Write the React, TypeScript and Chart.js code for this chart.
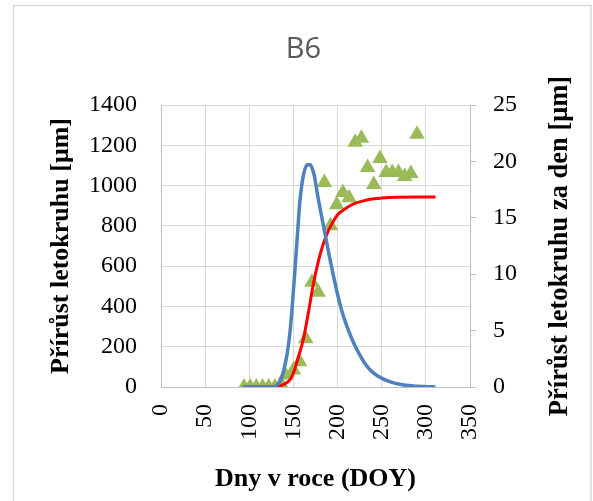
import React, { useEffect, useRef } from "react";
import { Chart, registerables } from "chart.js";

Chart.register(...registerables);

// Measured ring-width increments (green triangles), left axis
const obsDoy = [94, 101, 108, 115, 122, 129, 136, 141, 150, 157, 164, 171, 178, 185, 192, 199, 206, 213, 220, 227, 234, 241, 248, 255, 262, 269, 276, 283, 290];
const obsVal = [0, 0, 0, 0, 0, 0, 15, 60, 85, 125, 240, 520, 470, 1015, 800, 905, 965, 940, 1215, 1235, 1090, 1005, 1135, 1065, 1065, 1065, 1045, 1060, 1255];

// Fitted cumulative growth curve (red), left axis
const fitDoy = [93, 120, 130, 140, 146, 150, 155, 161, 167, 172, 178, 184, 190, 195, 200, 207, 214, 222, 230, 237, 250, 267, 290, 311];
const fitVal = [0, 0, 2, 15, 35, 70, 140, 233, 370, 498, 620, 713, 780, 821, 855, 880, 900, 915, 925, 932, 938, 942, 943, 943];

// Daily growth rate (blue), right axis
const rateDoy = [93, 127, 133, 137, 140, 143, 146, 149, 152, 155, 157, 160, 163, 166, 169, 172, 174, 177, 180, 184, 188, 192, 196, 200, 205, 210, 216, 222, 230, 237, 245, 259, 272, 285, 298, 311];
const rateVal = [0, 0, 0.3, 0.9, 1.8, 3, 4.8, 7.5, 10.7, 14, 16.2, 18.2, 19.3, 19.7, 19.7, 19.2, 18.6, 17.2, 15.9, 14.3, 12.7, 11.1, 9.6, 8.2, 6.7, 5.5, 4.3, 3.3, 2.2, 1.5, 1.0, 0.47, 0.22, 0.1, 0.04, 0];

const leftTicks = [0, 200, 400, 600, 800, 1000, 1200, 1400];
const rightTicks = [0, 5, 10, 15, 20, 25];
const xTicks = [0, 50, 100, 150, 200, 250, 300, 350];

const chartTitle = "B6";
const xTitle = "Dny v roce (DOY)";
const yTitle = "Přírůst letokruhu [μm]";
const y2Title = "Přírůst letokruhu za den [μm]";

const W = 593;
const H = 501;
const PLOT_LEFT = 161;
const PLOT_RIGHT = 470;
const PLOT_BOTTOM = 387;
const FRAME_LEFT = 14;

const serif = "'Liberation Serif', 'Times New Roman', serif";

const toPts = (xs: number[], ys: number[]) => xs.map((x, i) => ({ x, y: ys[i] }));
const fixedTicks = (vals: number[]) => (axis: any) => {
  axis.ticks = vals.map((v) => ({ value: v }));
};
const plain = (v: any) => String(v);

const framePlugin = {
  id: "frame",
  beforeDraw(chart: any) {
    const ctx = chart.ctx;
    ctx.save();
    ctx.fillStyle = "#ffffff";
    ctx.fillRect(0, 0, chart.width, chart.height);
    ctx.restore();
  },
  afterDraw(chart: any) {
    const ctx = chart.ctx;
    const area = chart.chartArea;
    ctx.save();
    ctx.strokeStyle = "#d9d9d9";
    ctx.lineWidth = 1.5;
    ctx.strokeRect(13.5, 5.5, 577.5, 510);
    ctx.fillStyle = "#000000";
    ctx.font = `bold 26.5px ${serif}`;
    ctx.textAlign = "center";
    ctx.textBaseline = "middle";
    ctx.translate(560, (area.top + area.bottom) / 2);
    ctx.rotate(-Math.PI / 2);
    ctx.fillText(y2Title, 0, 0);
    ctx.restore();
  },
};

export default function App() {
  const ref = useRef<HTMLCanvasElement | null>(null);

  useEffect(() => {
    document.body.style.margin = "0";
    if (!ref.current) return;
    const chart = new Chart(ref.current, {
      type: "scatter",
      data: {
        datasets: [
          {
            label: "rate",
            data: toPts(rateDoy, rateVal),
            yAxisID: "y2",
            showLine: true,
            borderColor: "#4f81bd",
            borderWidth: 3.5,
            pointRadius: 0,
            cubicInterpolationMode: "monotone",
            order: 0,
          },
          {
            label: "fit",
            data: toPts(fitDoy, fitVal),
            yAxisID: "y",
            showLine: true,
            borderColor: "#ff0000",
            borderWidth: 3,
            pointRadius: 0,
            cubicInterpolationMode: "monotone",
            order: 1,
          },
          {
            label: "obs",
            data: toPts(obsDoy, obsVal),
            yAxisID: "y",
            showLine: false,
            pointStyle: "triangle",
            pointRadius: 9,
            backgroundColor: "#9bbb59",
            borderColor: "#9bbb59",
            borderWidth: 0,
            order: 2,
          },
        ],
      },
      options: {
        responsive: false,
        animation: false,
        layout: { padding: { left: FRAME_LEFT, right: 0, top: 0, bottom: 0 } },
        plugins: {
          legend: { display: false },
          tooltip: { enabled: false },
          title: {
            display: true,
            text: chartTitle,
            color: "#595959",
            font: { family: "'Open Sans', 'Noto Sans', sans-serif", size: 29, weight: "normal", lineHeight: 1.2 },
            padding: { top: 32.6, bottom: 37.6 },
          },
        },
        scales: {
          x: {
            type: "linear",
            position: "bottom",
            min: 0,
            max: 350,
            afterBuildTicks: fixedTicks(xTicks),
            ticks: {
              callback: plain,
              color: "#000000",
              font: { family: serif, size: 24 },
              minRotation: 90,
              maxRotation: 90,
              padding: 17,
            },
            grid: { color: "#d9d9d9", drawTicks: false, lineWidth: 1 },
            border: { color: "#bfbfbf", width: 1 },
            title: {
              display: true,
              text: xTitle,
              color: "#000000",
              font: { family: serif, size: 26, weight: "bold", lineHeight: 1.2 },
              padding: { top: 0, bottom: 6 },
            },
            afterFit: (scale: any) => {
              scale.height = H - PLOT_BOTTOM;
            },
          },
          y: {
            type: "linear",
            position: "left",
            min: 0,
            max: 1400,
            afterBuildTicks: fixedTicks(leftTicks),
            ticks: {
              callback: plain,
              color: "#000000",
              font: { family: serif, size: 24 },
              padding: 24,
            },
            grid: { color: "#d9d9d9", drawTicks: false, lineWidth: 1 },
            border: { color: "#bfbfbf", width: 1 },
            title: {
              display: true,
              text: yTitle,
              color: "#000000",
              font: { family: serif, size: 26, weight: "bold", lineHeight: 1.2 },
              padding: { top: 32, bottom: 0 },
            },
            afterFit: (scale: any) => {
              scale.width = PLOT_LEFT - FRAME_LEFT;
            },
          },
          y2: {
            type: "linear",
            position: "right",
            min: 0,
            max: 25,
            afterBuildTicks: fixedTicks(rightTicks),
            ticks: {
              callback: plain,
              color: "#000000",
              font: { family: serif, size: 24 },
              padding: 17,
            },
            grid: { color: "#bfbfbf", drawOnChartArea: false, drawTicks: true, tickLength: 6, lineWidth: 1 },
            border: { color: "#bfbfbf", width: 1 },
            afterFit: (scale: any) => {
              scale.width = W - PLOT_RIGHT;
            },
          },
        },
      },
      plugins: [framePlugin],
    } as any);
    return () => chart.destroy();
  }, []);

  return (
    <div style={{ position: "absolute", left: 0, top: 0, width: W, height: H }}>
      <canvas ref={ref} width={W} height={H} style={{ display: "block" }} />
    </div>
  );
}
